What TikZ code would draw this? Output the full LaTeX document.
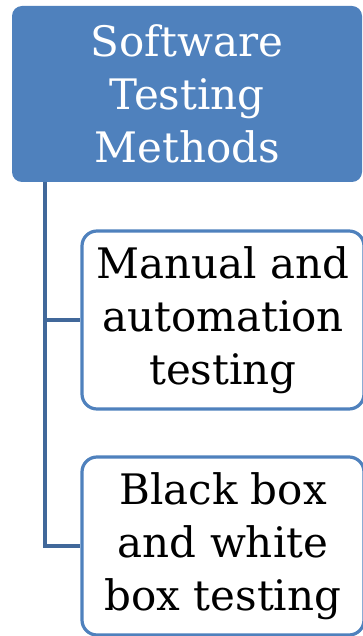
\documentclass[tikz,border=0pt]{standalone}
\usepackage{fontspec}
\setmainfont{DejaVu Serif}
\usepackage{tikz}
\usetikzlibrary{positioning}

\definecolor{accent}{HTML}{4F81BD}
\definecolor{accentdark}{HTML}{41689A}

\begin{document}
\begin{tikzpicture}[
    method/.style={rectangle, draw=none, rounded corners=10pt, fill=accent,
        minimum width=350pt, minimum height=176pt, inner sep=0pt,
        text=white, align=center, font=\fontsize{42}{53}\selectfont},
    kind/.style={rectangle, draw=accent, line width=3.2pt, rounded corners=15pt, fill=white,
        minimum width=282pt, minimum height=178pt, inner sep=0pt,
        text=black, align=center, font=\fontsize{42}{53}\selectfont},
    branch/.style={draw=accentdark, line width=4pt}
    ]
    \useasboundingbox (0pt,0pt) rectangle (362pt,-636pt);
    \node (Root) [method] at (187pt,-94pt) {Software\\Testing\\Methods};
    \node (Kind01) [kind] at (223pt,-320pt) {Manual and\\automation\\testing};
    \node (Kind02) [kind] at (223pt,-546pt) {Black box\\and white\\box testing};
    \coordinate (Trunk) at (45pt,-182pt);
    \draw [branch] (Trunk) |- (Kind02.west);
    \draw [branch] (Trunk |- Kind01.west) -- (Kind01.west);
\end{tikzpicture}
\end{document}
